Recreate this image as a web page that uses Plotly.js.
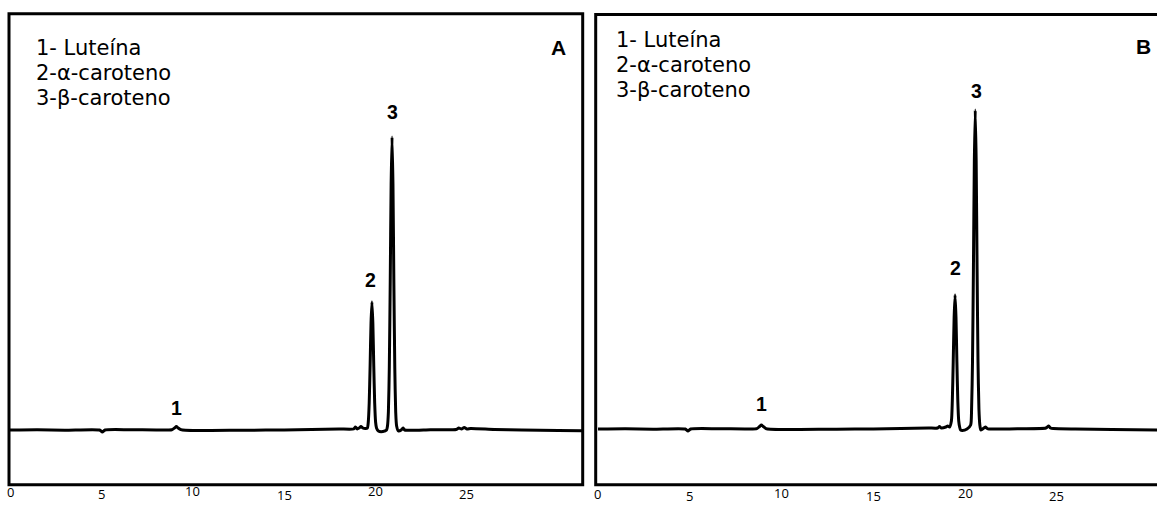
<!DOCTYPE html>
<html>
<head>
<meta charset="utf-8">
<script src="https://cdn.plot.ly/plotly-3.0.1.min.js"></script>
<style>
  html, body { margin: 0; padding: 0; background: #ffffff; }
  #chart { width: 1157px; height: 507px; }
</style>
</head>
<body>
<div id="chart"></div>
<script>
// ---- Data (retention time in min, detector signal in arbitrary units) ----
const legendLines = ["1- Luteína", "2-\u03b1-caroteno", "3-\u03b2-caroteno"];
const panelLetters = ["A", "B"];
const tickValues = [0, 5, 10, 15, 20, 25];
const tickLabels = ["0", "5", "10", "15", "20", "25"];
const peakNames = ["1", "2", "3"];

// Panel A chromatogram
const timeA = [0, 1.5, 3, 4.9, 5.05, 5.2, 6.5, 8.0, 8.85, 9.0, 9.1, 9.2, 9.35, 9.6, 11, 13, 15, 16.5, 18.0,
  18.8, 18.9, 19.0, 19.1, 19.2, 19.3, 19.45, 19.55, 19.6, 19.65, 19.7, 19.75, 19.8, 19.85, 19.9, 19.95, 20.0,
  20.05, 20.15, 20.4, 20.6, 20.65, 20.7, 20.75, 20.8, 20.85, 20.9, 20.95, 21.0, 21.05, 21.1, 21.15, 21.25,
  21.4, 21.5, 21.6, 23, 24.4, 24.55, 24.7, 24.85, 25.0, 25.2, 26.5, 28, 30, 31.3];
const signalA = [0, 0.3, -0.2, 0, -2, 0, 0.3, 0, 0.3, 2, 3.5, 2, 0.3, -0.3, -0.5, -0.2, 0, 0.5, 1,
  1, 3, 1, 2, 3.5, 2, 1.5, 2, 8, 27, 64, 107, 128, 107, 64, 27, 8,
  2, -1, -1.5, 0, 4, 18, 62, 147, 246, 293, 246, 147, 62, 18, 4, -1,
  0, 2, 0, 0.3, 0.5, 2, 1, 2.5, 1, 1.5, 0.5, 0, -0.5, -0.8];

// Panel B chromatogram
const timeB = [0, 1.5, 3, 4.75, 4.9, 5.05, 6.5, 8.0, 8.65, 8.8, 8.9, 9.0, 9.15, 9.4, 11, 13, 15, 16.5, 18.0,
  18.5, 18.6, 18.7, 18.95, 19.05, 19.15, 19.25, 19.3, 19.35, 19.4, 19.45, 19.5, 19.55, 19.6, 19.65, 19.7,
  19.75, 19.85, 20.1, 20.3, 20.35, 20.4, 20.45, 20.5, 20.55, 20.6, 20.65, 20.7, 20.75, 20.8, 20.85, 20.95,
  21.1, 21.2, 21.3, 23, 24.4, 24.55, 24.65, 24.8, 26, 28, 30.5];
const signalB = [0, 0.3, -0.2, 0, -2, 0, 0.3, 0, 0.3, 2.5, 4, 2.5, 0.3, -0.3, -0.5, -0.2, 0, 0.5, 1,
  1, 2.5, 1, 2, 3, 2, 8, 28, 67, 112, 134, 112, 67, 28, 8, 2,
  -1, -1.5, 0, 4, 20, 67, 160, 268, 319, 268, 160, 67, 20, 4, -1, 0,
  2, 0.5, 0, 0.3, 1, 3, 1, 0.5, 0, -0.5, -1];

// Peak apex positions (time, signal) used to anchor the peak numbers
const peakTimeA = [9.1, 19.8, 20.9];
const peakSignalA = [3.5, 128, 293];
const peakTimeB = [8.9, 19.5, 20.6];
const peakSignalB = [4, 134, 319];

// ---- Layout helpers ----
const W = 1157, H = 507;
const px = v => v / W;          // horizontal pixel -> paper
const py = v => 1 - v / H;      // vertical pixel -> paper

const lineStyle = { color: '#000000', width: 3, shape: 'spline', smoothing: 0.6 };

const traces = [
  { x: timeA, y: signalA, type: 'scatter', mode: 'lines', line: lineStyle, xaxis: 'x', yaxis: 'y', hoverinfo: 'skip' },
  { x: timeB, y: signalB, type: 'scatter', mode: 'lines', line: lineStyle, xaxis: 'x2', yaxis: 'y2', hoverinfo: 'skip' }
];

function xAxis(domain, range, anchor) {
  return {
    domain: domain, range: range, anchor: anchor,
    showgrid: false, zeroline: false, showline: false, ticks: '',
    showticklabels: false, fixedrange: true
  };
}
function yAxis(domain, range, anchor) {
  return {
    domain: domain, range: range, anchor: anchor,
    showgrid: false, zeroline: false, showline: false, ticks: '',
    showticklabels: false, fixedrange: true
  };
}

const annotations = [];

// x tick labels (placed on each panel's x scale; slightly staggered as in the original figure)
const tickFont = { family: 'Open Sans, Noto Sans, sans-serif', size: 13, color: '#000000' };
const tickRowY = { x: [492, 494, 491, 494.5, 490.5, 494], x2: [494, 496, 493, 495.5, 493, 496] };
['x', 'x2'].forEach(ax => {
  tickValues.forEach((v, i) => {
    annotations.push({ xref: ax, yref: 'paper', x: v, y: py(tickRowY[ax][i]), xanchor: 'center', yanchor: 'middle',
      text: tickLabels[i], showarrow: false, font: tickFont, borderpad: 0 });
  });
});

const legendFont = { family: 'DejaVu Sans, Verdana, sans-serif', size: 21, color: '#000000' };
const legendStart = [[34, 48], [614, 40]];
legendStart.forEach(([lx, ly]) => {
  legendLines.forEach((t, i) => {
    annotations.push({ xref: 'paper', yref: 'paper', x: px(lx), y: py(ly + 25 * i),
      xanchor: 'left', yanchor: 'middle', text: t, showarrow: false, font: legendFont });
  });
});
const letterFont = { family: 'Liberation Sans, Arial, sans-serif', size: 21, color: '#000000' };
[[558, 47], [1143, 46]].forEach(([lx, ly], i) => {
  annotations.push({ xref: 'paper', yref: 'paper', x: px(lx), y: py(ly), xanchor: 'center', yanchor: 'middle',
    text: '<b>' + panelLetters[i] + '</b>', showarrow: false, font: letterFont });
});
const peakFont = { family: 'Liberation Sans, Arial, sans-serif', size: 19.5, color: '#000000' };
const shiftsA = [[0, 19], [-1.5, 22], [0, 25]];
const shiftsB = [[0, 21], [-0.5, 27], [0, 19]];
peakNames.forEach((n, i) => {
  annotations.push({ xref: 'x', yref: 'y', x: peakTimeA[i], y: peakSignalA[i], xshift: shiftsA[i][0], yshift: shiftsA[i][1],
    xanchor: 'center', yanchor: 'middle', text: '<b>' + n + '</b>', showarrow: false, font: peakFont });
  annotations.push({ xref: 'x2', yref: 'y2', x: peakTimeB[i], y: peakSignalB[i], xshift: shiftsB[i][0], yshift: shiftsB[i][1],
    xanchor: 'center', yanchor: 'middle', text: '<b>' + n + '</b>', showarrow: false, font: peakFont });
});

const frame = { color: '#000000', width: 3 };
const layout = {
  width: W, height: H,
  margin: { l: 0, r: 0, t: 0, b: 0, pad: 0 },
  paper_bgcolor: '#ffffff', plot_bgcolor: 'rgba(0,0,0,0)',
  showlegend: false,
  xaxis: xAxis([px(9), px(582.7)], [-0.055, 31.33], 'y'),
  yaxis: yAxis([py(484.7), py(13.7)], [-54.7, 416.3], 'x'),
  xaxis2: xAxis([px(595.7), 1], [-0.125, 30.45], 'y2'),
  yaxis2: yAxis([py(484.7), py(14.5)], [-55.7, 414.5], 'x2'),
  shapes: [
    { type: 'rect', xref: 'paper', yref: 'paper', x0: px(9), x1: px(582.7), y0: py(484.7), y1: py(13.7), line: frame },
    { type: 'rect', xref: 'paper', yref: 'paper', x0: px(595.7), x1: px(1162), y0: py(484.7), y1: py(14.5), line: frame }
  ],
  annotations: annotations
};

Plotly.newPlot('chart', traces, layout, { staticPlot: true, displayModeBar: false });
</script>
</body>
</html>
